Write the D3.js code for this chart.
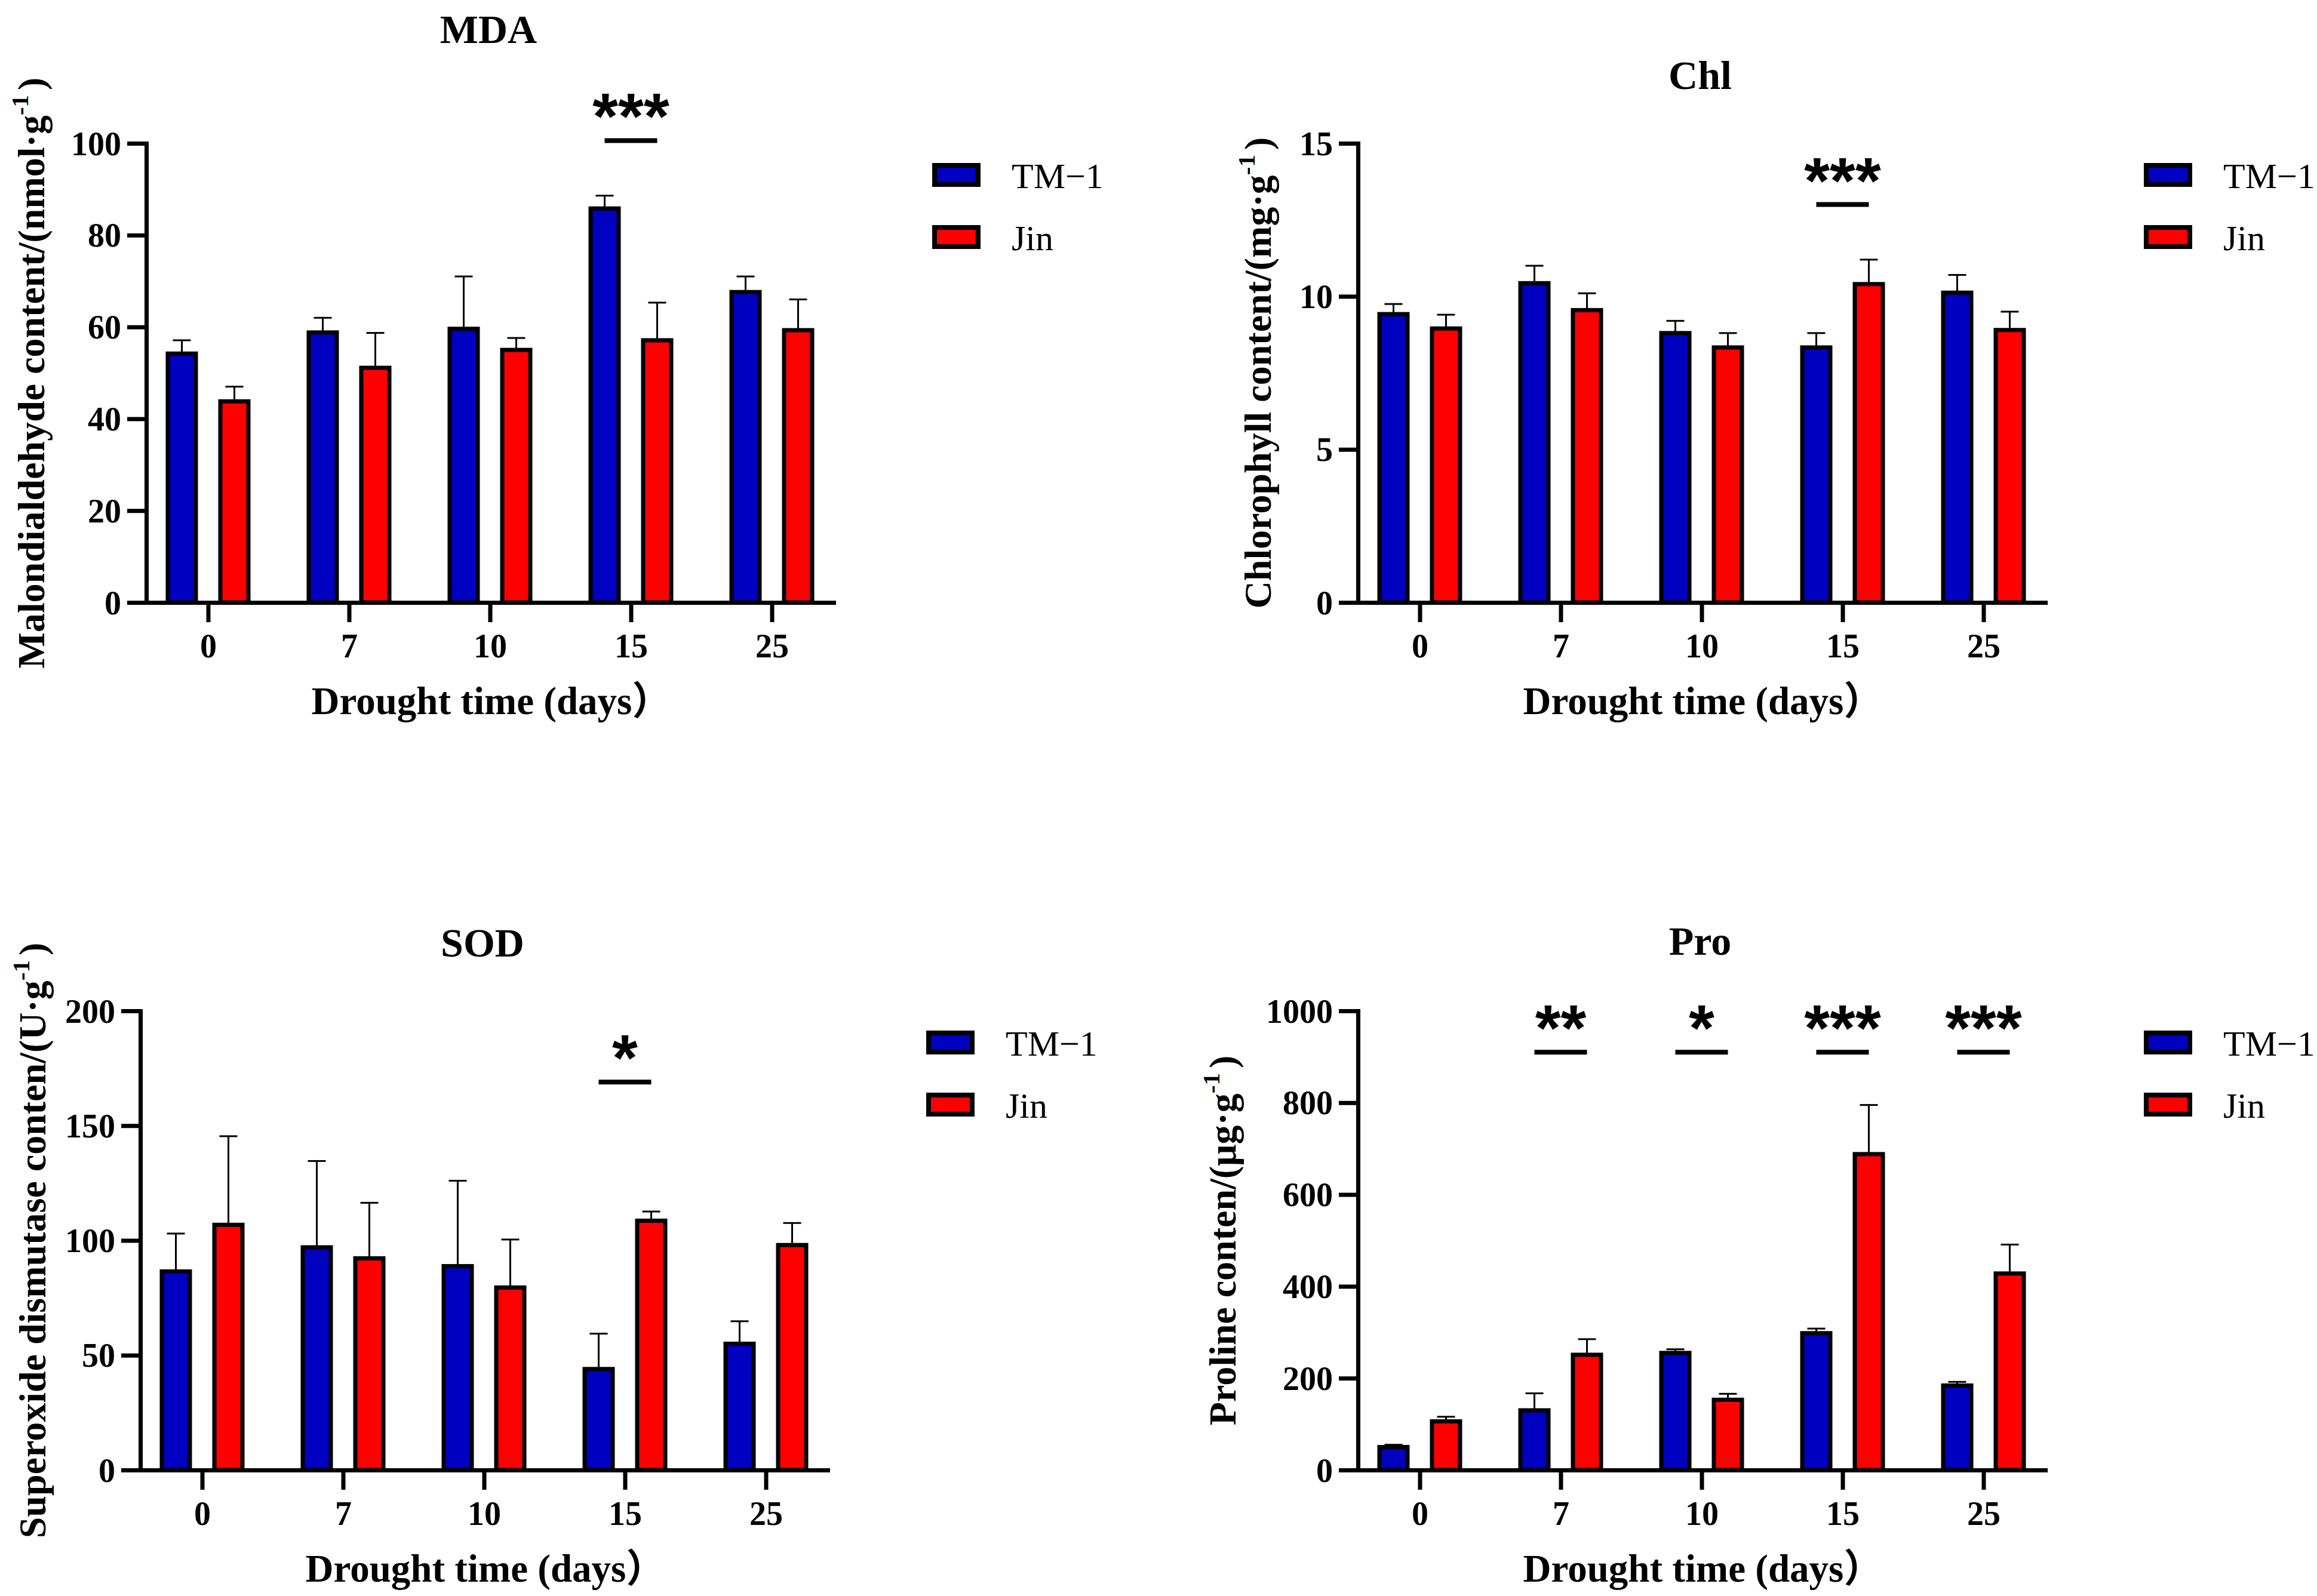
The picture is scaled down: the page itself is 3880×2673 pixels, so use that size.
<!DOCTYPE html>
<html>
<head>
<meta charset="utf-8">
<script src="https://cdn.jsdelivr.net/npm/d3@7"></script>
<style>
  body { margin: 0; background: #fff; }
  svg { display: block; background: #fff; }
  text { font-family: "Liberation Serif", "Times New Roman", "Noto Sans CJK SC", serif; }
  .stars { font-family: "Liberation Sans", Arial, sans-serif; }
</style>
</head>
<body>
<svg id="chart" width="3880" height="2673"></svg>
<script>
// categories / series
var days = ["0", "7", "10", "15", "25"];
var seriesNames = ["TM\u22121", "Jin"];
var seriesColors = ["#0000c0", "#ff0000"];

// MDA
var mdaTM1 = [54.2, 58.8, 59.6, 85.8, 67.6];
var mdaTM1Err = [2.9, 3.2, 11.4, 2.8, 3.4];
var mdaJin = [43.8, 51.1, 55.0, 57.1, 59.3];
var mdaJinErr = [3.2, 7.6, 2.6, 8.2, 6.7];
var mdaTicks = [0, 20, 40, 60, 80, 100];
var mdaSig = [{ day: "15", mark: "***" }];
var mdaSigLevel = 100.6;

// Chl
var chlTM1 = [9.42, 10.43, 8.8, 8.33, 10.12];
var chlTM1Err = [0.33, 0.57, 0.4, 0.47, 0.58];
var chlJin = [8.95, 9.55, 8.33, 10.4, 8.9];
var chlJinErr = [0.45, 0.55, 0.47, 0.8, 0.6];
var chlTicks = [0, 5, 10, 15];
var chlSig = [{ day: "15", mark: "***" }];
var chlSigLevel = 13.0;

// SOD
var sodTM1 = [86.5, 97, 88.8, 44, 55];
var sodTM1Err = [16.5, 37.6, 37.2, 15.4, 9.8];
var sodJin = [106.8, 92.2, 79.5, 108.6, 98];
var sodJinErr = [38.6, 24.2, 20.9, 4, 9.6];
var sodTicks = [0, 50, 100, 150, 200];
var sodSig = [{ day: "15", mark: "*" }];
var sodSigLevel = 169;

// Pro
var proTM1 = [50, 130, 255, 298, 184];
var proTM1Err = [5, 37, 8, 10, 8];
var proJin = [106, 251, 153, 688, 428];
var proJinErr = [10, 34, 13, 107, 63];
var proTicks = [0, 200, 400, 600, 800, 1000];
var proSig = [{ day: "7", mark: "**" }, { day: "10", mark: "*" }, { day: "15", mark: "***" }, { day: "25", mark: "***" }];
var proSigLevel = 910;

var panels = [
  { title: "MDA", yLabel: "Malondialdehyde content/(nmol\u00b7g", yMax: 100, ticks: mdaTicks,
    values: [mdaTM1, mdaJin], errors: [mdaTM1Err, mdaJinErr], sig: mdaSig, sigLevel: mdaSigLevel,
    left: 245, bottom: 1009, labelOff: 171 },
  { title: "Chl", yLabel: "Chlorophyll content/(mg\u00b7g", yMax: 15, ticks: chlTicks,
    values: [chlTM1, chlJin], errors: [chlTM1Err, chlJinErr], sig: chlSig, sigLevel: chlSigLevel,
    left: 2274, bottom: 1009, labelOff: 146 },
  { title: "SOD", yLabel: "Superoxide dismutase conten/(U\u00b7g", yMax: 200, ticks: sodTicks,
    values: [sodTM1, sodJin], errors: [sodTM1Err, sodJinErr], sig: sodSig, sigLevel: sodSigLevel,
    left: 235, bottom: 2462, labelOff: 159 },
  { title: "Pro", yLabel: "Proline conten/(\u03bcg\u00b7g", yMax: 1000, ticks: proTicks,
    values: [proTM1, proJin], errors: [proTM1Err, proJinErr], sig: proSig, sigLevel: proSigLevel,
    left: 2274, bottom: 2462, labelOff: 205 }
];

var svg = d3.select("#chart");
var plotW = 1151, plotH = 769,
    barW = 47, barOff = 44, capW = 30,
    lineW = 7;

function drawPanel(p) {
  var g = svg.append("g");
  var top = p.bottom - plotH;

  var x = d3.scalePoint().domain(days).range([p.left, p.left + plotW]).padding(0.4385);
  var y = d3.scaleLinear().domain([0, p.yMax]).range([p.bottom, top]);

  // error bars (upper only)
  p.values.forEach(function (vals, s) {
    var off = s === 0 ? -barOff : barOff;
    var eg = g.append("g").attr("stroke", "#000").attr("stroke-width", 3);
    eg.selectAll("line.err").data(days).enter().append("line")
      .attr("x1", function (d) { return x(d) + off; })
      .attr("x2", function (d) { return x(d) + off; })
      .attr("y1", function (d, i) { return y(vals[i]); })
      .attr("y2", function (d, i) { return y(vals[i] + p.errors[s][i]); });
    eg.selectAll("line.cap").data(days).enter().append("line")
      .attr("x1", function (d) { return x(d) + off - capW / 2; })
      .attr("x2", function (d) { return x(d) + off + capW / 2; })
      .attr("y1", function (d, i) { return y(vals[i] + p.errors[s][i]); })
      .attr("y2", function (d, i) { return y(vals[i] + p.errors[s][i]); });
  });

  // bars
  p.values.forEach(function (vals, s) {
    var off = s === 0 ? -barOff : barOff;
    g.append("g").selectAll("rect").data(days).enter().append("rect")
      .attr("x", function (d) { return x(d) + off - barW / 2; })
      .attr("y", function (d, i) { return y(vals[i]); })
      .attr("width", barW)
      .attr("height", function (d, i) { return y(0) - y(vals[i]); })
      .attr("fill", seriesColors[s])
      .attr("stroke", "#000")
      .attr("stroke-width", lineW);
  });

  // y axis
  var ya = g.append("g").attr("transform", "translate(" + p.left + ",0)")
    .call(d3.axisLeft(y).tickValues(p.ticks).tickSize(32).tickSizeOuter(0).tickPadding(10).tickFormat(d3.format("d")));
  // x axis
  var xa = g.append("g").attr("transform", "translate(0," + p.bottom + ")")
    .call(d3.axisBottom(x).tickSize(33).tickSizeOuter(0).tickPadding(19));

  [ya, xa].forEach(function (a) {
    a.attr("font-size", 56).attr("font-weight", "bold").attr("font-family", null);
    a.select(".domain").attr("stroke-width", lineW).attr("stroke-linecap", "square");
    a.selectAll(".tick line").attr("stroke-width", lineW);
    a.selectAll(".tick text").attr("fill", "#000");
  });
  ya.selectAll(".tick text").attr("dy", "0.34em");

  // y label
  var yl = g.append("text")
    .attr("transform", "translate(" + (p.left - p.labelOff) + "," + ((top + p.bottom) / 2) + ") rotate(-90)")
    .attr("text-anchor", "middle")
    .attr("font-size", 64)
    .attr("font-weight", "bold");
  yl.append("tspan").text(p.yLabel);
  yl.append("tspan").attr("dy", -27).attr("font-size", 41).text("-1");
  yl.append("tspan").attr("dy", 27).attr("dx", 8).text(")");

  // x label
  g.append("text")
    .attr("x", p.left + plotW / 2 + 2)
    .attr("y", p.bottom + 187)
    .attr("text-anchor", "middle")
    .attr("font-size", 65)
    .attr("font-weight", "bold")
    .text("Drought time (days\uff09");

  // significance marks
  var sy = y(p.sigLevel);
  p.sig.forEach(function (s) {
    g.append("line")
      .attr("x1", x(s.day) - 44).attr("x2", x(s.day) + 44)
      .attr("y1", sy).attr("y2", sy)
      .attr("stroke", "#000").attr("stroke-width", 8);
    g.append("text")
      .attr("class", "stars")
      .attr("x", x(s.day))
      .attr("y", sy - 3)
      .attr("text-anchor", "middle")
      .attr("font-size", 110)
      .attr("font-weight", "bold")
      .text(s.mark);
  });

  // title
  var starTop = sy - 72;
  g.append("text")
    .attr("x", p.left + 573)
    .attr("y", Math.min(top, starTop) - 91)
    .attr("text-anchor", "middle")
    .attr("font-size", 68)
    .attr("font-weight", "bold")
    .text(p.title);

  // legend
  var lg = g.append("g").attr("transform", "translate(" + (p.left + 1320) + "," + top + ")");
  seriesNames.forEach(function (name, s) {
    var cy = 53 + s * 104;
    lg.append("rect")
      .attr("x", 0).attr("y", cy - 16)
      .attr("width", 73).attr("height", 32)
      .attr("fill", seriesColors[s])
      .attr("stroke", "#000").attr("stroke-width", 8);
    lg.append("text")
      .attr("x", 129).attr("y", cy + 22)
      .attr("font-size", 60)
      .text(name);
  });
}

panels.forEach(drawPanel);
</script>
</body>
</html>
